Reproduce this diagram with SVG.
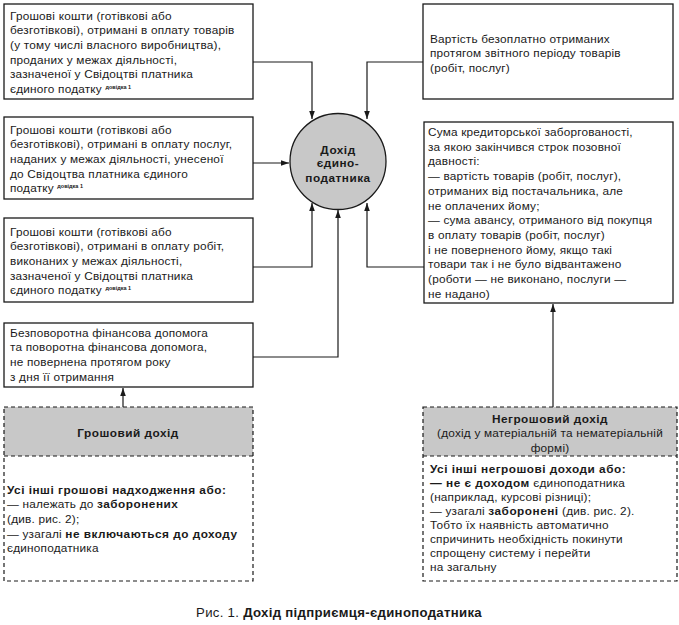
<svg xmlns="http://www.w3.org/2000/svg" width="679" height="625" viewBox="0 0 679 625">
<style>
text{font-family:"Liberation Sans",Arial,sans-serif;font-size:11.8px;letter-spacing:0.2px;fill:#1a1a1a}
.b{font-weight:bold;letter-spacing:0.5px}
.sup{font-size:5.5px;font-weight:bold;letter-spacing:0}
.box{fill:#fff;stroke:#1a1a1a;stroke-width:1.3}
.dash{fill:none;stroke:#1a1a1a;stroke-width:1.2;stroke-dasharray:4 3}
.hdr{fill:#c8c8c8;stroke:none}
.ln{fill:none;stroke:#1a1a1a;stroke-width:1.2;marker-end:url(#ah)}
.c{text-anchor:middle}
</style>
<defs>
<marker id="ah" viewBox="0 0 8 8" refX="8" refY="4" markerWidth="8" markerHeight="8" markerUnits="userSpaceOnUse" orient="auto">
<path d="M0,1.2 L8,4 L0,6.8 Z" fill="#1a1a1a"/>
</marker>
</defs>
<rect width="679" height="625" fill="#fff"/>

<g id="connectors">
<path class="ln" d="M253,62 H312 V119"/>
<path class="ln" d="M423,62 H367 V119"/>
<path class="ln" d="M253,163 H289"/>
<path class="ln" d="M253,267 H312 V203"/>
<path class="ln" d="M253,357 H338 V210"/>
<path class="ln" d="M424,267 H367 V203"/>
<path class="ln" d="M123,407 V388"/>
<path class="ln" d="M553,407 V304"/>
</g>

<g id="node-goods">
<rect class="box" x="4" y="4" width="249" height="95"/>
<text x="10" y="19.5">Грошові кошти (готівкові або</text>
<text x="10" y="34.2">безготівкові), отримані в оплату товарів</text>
<text x="10" y="48.9">(у тому числі власного виробництва),</text>
<text x="10" y="63.6">проданих у межах діяльності,</text>
<text x="10" y="78.3">зазначеної у Свідоцтві платника</text>
<text x="10" y="93">єдиного податку <tspan class="sup" dy="-4">довідка 1</tspan></text>
</g>

<g id="node-services">
<rect class="box" x="4" y="117" width="249" height="82"/>
<text x="10" y="133.5">Грошові кошти (готівкові або</text>
<text x="10" y="148.2">безготівкові), отримані в оплату послуг,</text>
<text x="10" y="162.9">наданих у межах діяльності, унесеної</text>
<text x="10" y="177.6">до Свідоцтва платника єдиного</text>
<text x="10" y="192.3">податку <tspan class="sup" dy="-4">довідка 1</tspan></text>
</g>

<g id="node-works">
<rect class="box" x="4" y="218" width="249" height="84"/>
<text x="10" y="235.5">Грошові кошти (готівкові або</text>
<text x="10" y="250.2">безготівкові), отримані в оплату робіт,</text>
<text x="10" y="264.9">виконаних у межах діяльності,</text>
<text x="10" y="279.6">зазначеної у Свідоцтві платника</text>
<text x="10" y="294.3">єдиного податку <tspan class="sup" dy="-4">довідка 1</tspan></text>
</g>

<g id="node-aid">
<rect class="box" x="4" y="323" width="249" height="64"/>
<text x="10" y="336.5">Безповоротна фінансова допомога</text>
<text x="10" y="351.2">та поворотна фінансова допомога,</text>
<text x="10" y="365.9">не повернена протягом року</text>
<text x="10" y="380.6">з дня її отримання</text>
</g>

<g id="node-income">
<circle cx="338" cy="161.5" r="48" fill="#c8c8c8" stroke="#1a1a1a" stroke-width="1.3"/>
<text class="b c" x="338" y="154">Дохід</text>
<text class="b c" x="338" y="167">єдино-</text>
<text class="b c" x="338" y="181.5">податника</text>
</g>

<g id="node-free">
<rect class="box" x="423" y="4" width="250" height="95"/>
<text x="430" y="42.5">Вартість безоплатно отриманих</text>
<text x="430" y="57.2">протягом звітного періоду товарів</text>
<text x="430" y="71.9">(робіт, послуг)</text>
</g>

<g id="node-debt">
<rect class="box" x="424" y="122" width="249" height="181"/>
<text x="428" y="136">Сума кредиторської заборгованості,</text>
<text x="428" y="150.7">за якою закінчився строк позовної</text>
<text x="428" y="165.4">давності:</text>
<text x="428" y="180.1">— вартість товарів (робіт, послуг),</text>
<text x="428" y="194.8">отриманих від постачальника, але</text>
<text x="428" y="209.5">не оплачених йому;</text>
<text x="428" y="224.2">— сума авансу, отриманого від покупця</text>
<text x="428" y="238.9">в оплату товарів (робіт, послуг)</text>
<text x="428" y="253.6">і не повернeного йому, якщо такі</text>
<text x="428" y="268.3">товари так і не було відвантажено</text>
<text x="428" y="283">(роботи — не виконано, послуги —</text>
<text x="428" y="297.7">не надано)</text>
</g>

<g id="node-cash">
<rect class="hdr" x="4" y="407" width="249" height="49"/>
<rect class="dash" x="4" y="407" width="249" height="174"/>
<line x1="4" y1="456" x2="253" y2="456" stroke="#1a1a1a" stroke-width="1.2" stroke-dasharray="4 3"/>
<text class="b c" x="128" y="437">Грошовий дохід</text>
<text class="b" x="7" y="493.5">Усі інші грошові надходження або:</text>
<text x="7" y="508.2">— належать до <tspan class="b">заборонених</tspan></text>
<text x="7" y="522.9">(див. рис. 2);</text>
<text x="7" y="537.6">— узагалі <tspan class="b">не включаються до доходу</tspan></text>
<text x="7" y="552.3">єдиноподатника</text>
</g>

<g id="node-noncash">
<rect class="hdr" x="423" y="407" width="254" height="49"/>
<rect class="dash" x="423" y="407" width="254" height="174"/>
<line x1="423" y1="456" x2="677" y2="456" stroke="#1a1a1a" stroke-width="1.2" stroke-dasharray="4 3"/>
<text class="b c" x="550" y="422.5">Негрошовий дохід</text>
<text class="c" x="550" y="437.2">(дохід у матеріальній та нематеріальній</text>
<text class="c" x="550" y="451.9">формі)</text>
<text class="b" x="430" y="472.5">Усі інші негрошові доходи або:</text>
<text x="430" y="486.6"><tspan class="b">— не є доходом</tspan> єдиноподатника</text>
<text x="430" y="500.7">(наприклад, курсові різниці);</text>
<text x="430" y="514.8">— узагалі <tspan class="b">заборонені</tspan> (див. рис. 2).</text>
<text x="430" y="528.9">Тобто їх наявність автоматично</text>
<text x="430" y="543">спричинить необхідність покинути</text>
<text x="430" y="557.1">спрощену систему і перейти</text>
<text x="430" y="571.2">на загальну</text>
</g>

<g id="caption">
<text class="c" x="339" y="617" style="font-size:13.2px;letter-spacing:0.3px">Рис. 1. <tspan class="b" style="letter-spacing:0.3px">Дохід підприємця-єдиноподатника</tspan></text>
</g>
</svg>
